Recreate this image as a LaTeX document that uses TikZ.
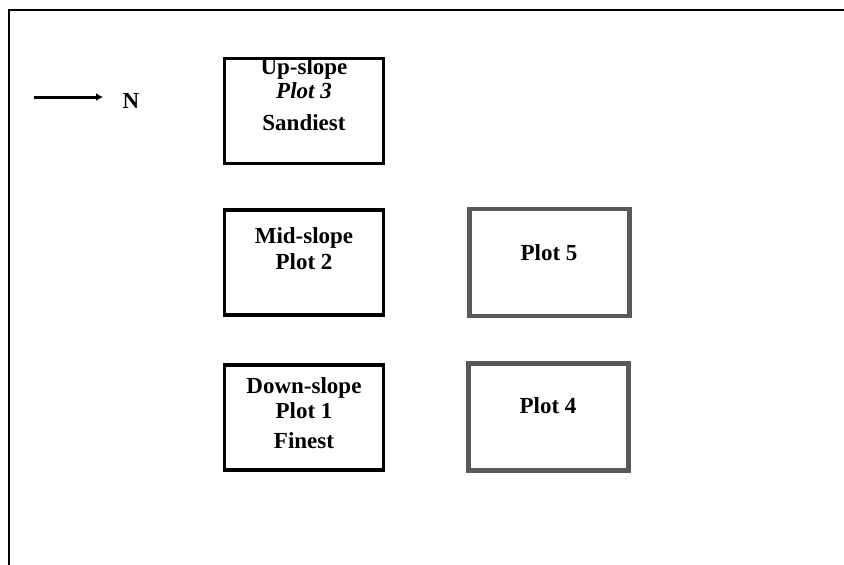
\documentclass[tikz,border=0pt]{standalone}
\usepackage{fontspec}
\setmainfont{Liberation Serif}
\usetikzlibrary{arrows.meta}
\begin{document}
\begin{tikzpicture}[x=1pt,y=-1pt,
  darkbox/.style={draw=black,line width=3.5pt,minimum width=159pt,minimum height=105pt,inner sep=0pt},
  graybox/.style={draw=black!65,line width=4.5pt,minimum width=160pt,minimum height=107pt,inner sep=0pt},
  lbl/.style={font=\fontsize{23}{26}\selectfont\bfseries,inner sep=0pt,anchor=base},
  frame/.style={line width=2pt}]
\useasboundingbox (0,0) rectangle (844,565);
% outer frame (top and left only)
\coordinate (ftr) at (844,10);
\coordinate (ftl) at (9,10);
\coordinate (fbl) at (9,565);
\draw[frame] (ftr) -- (ftl) -- (fbl);
% north arrow
\coordinate (as) at (34,97);
\node[lbl,anchor=center] (N) at (131,101) {N};
\draw[line width=3pt,-{Latex[length=7pt,width=8pt]}] (as) -- (103,97);
% boxes
\node[darkbox] (b3) at (304,111) {};
\node[darkbox] (b2) at (304,262.5) {};
\node[darkbox] (b1) at (304,417.5) {};
\node[graybox] (b5) at (549.5,262.5) {};
\node[graybox] (b4) at (548.5,417) {};
% texts
\node[lbl] (t3a) at (304,74) {Up-slope};
\node[lbl] (t3b) at (304,98) {\itshape Plot 3};
\node[lbl] (t3c) at (304,130) {Sandiest};
\node[lbl] (t2a) at (304,243) {Mid-slope};
\node[lbl] (t2b) at (304,269) {Plot 2};
\node[lbl] (t5) at (549,260) {Plot 5};
\node[lbl] (t1a) at (304,393) {Down-slope};
\node[lbl] (t1b) at (304,418) {Plot 1};
\node[lbl] (t1c) at (304,448) {Finest};
\node[lbl] (t4) at (548,413) {Plot 4};
\end{tikzpicture}
\end{document}
